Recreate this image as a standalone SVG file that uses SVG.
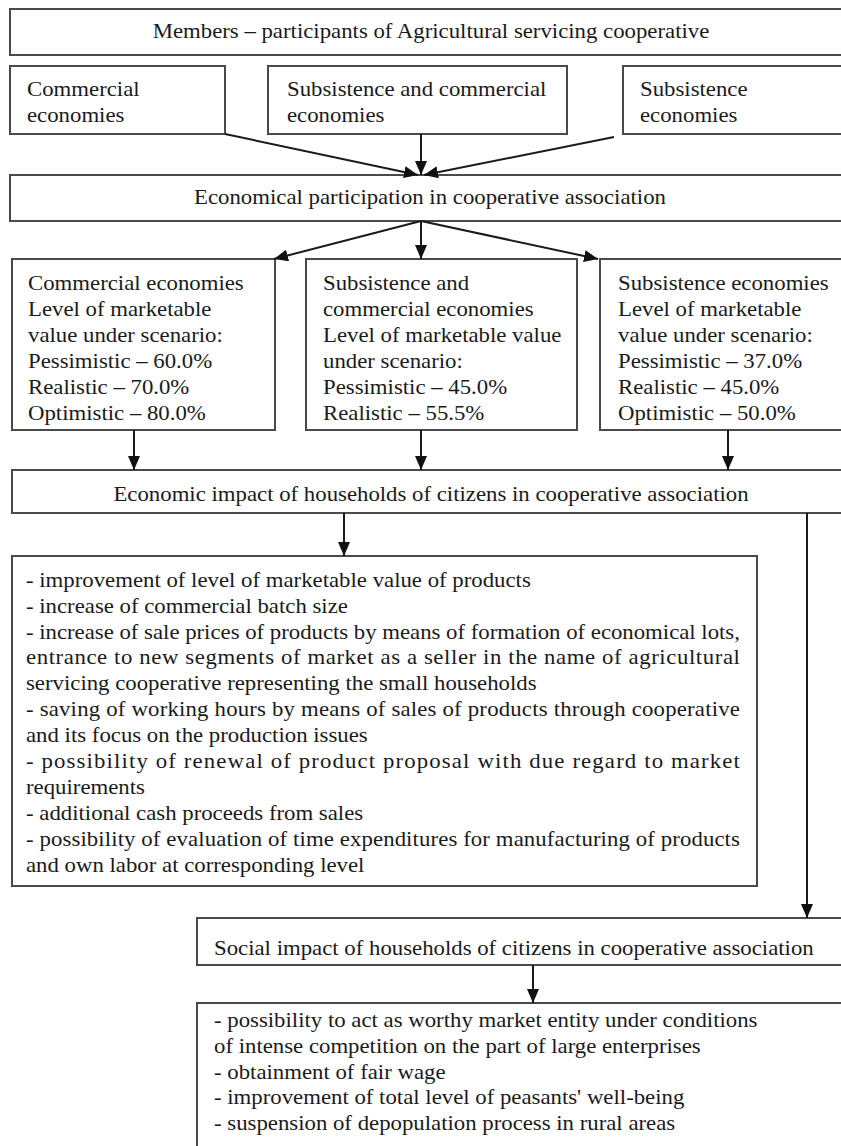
<svg xmlns="http://www.w3.org/2000/svg" width="841" height="1146" viewBox="0 0 841 1146">
<style>
.box{fill:#fff;stroke:#4a4a4a;stroke-width:2}
text{font-family:"Liberation Serif","Times New Roman",serif;font-size:21px;fill:#1a1a1a}
.c{text-anchor:middle}
.con{stroke:#1a1a1a;stroke-width:2;fill:none;marker-end:url(#ah)}
</style>
<defs>
<marker id="ah" markerUnits="userSpaceOnUse" viewBox="0 0 14 12" refX="14" refY="6" markerWidth="14" markerHeight="12" orient="auto">
<path d="M0,0 L14,6 L0,12 z" fill="#111"/>
</marker>
</defs>
<rect width="841" height="1146" fill="#fff"/>

<g id="members">
<rect class="box" x="10" y="9" width="840" height="46"/>
<g transform="translate(431,0) scale(1.085,1)"><text class="c" x="0" y="38">Members – participants of Agricultural servicing cooperative</text></g>
</g>

<g id="commercial">
<rect class="box" x="10" y="66" width="215" height="68"/>
<g transform="translate(27,0) scale(1.085,1)"><text x="0" y="96">Commercial</text><text x="0" y="122">economies</text></g>
</g>
<g id="subcom">
<rect class="box" x="268" y="66" width="299" height="68"/>
<g transform="translate(287,0) scale(1.085,1)"><text x="0" y="96">Subsistence and commercial</text><text x="0" y="122">economies</text></g>
</g>
<g id="subsistence">
<rect class="box" x="623" y="66" width="227" height="68"/>
<g transform="translate(640,0) scale(1.085,1)"><text x="0" y="96">Subsistence</text><text x="0" y="122">economies</text></g>
</g>

<g id="participation">
<rect class="box" x="10" y="175" width="840" height="46"/>
<g transform="translate(430,0) scale(1.085,1)"><text class="c" x="0" y="204">Economical participation in cooperative association</text></g>
</g>

<g id="comm-level">
<rect class="box" x="12" y="259" width="263" height="171"/>
<g transform="translate(28,0) scale(1.085,1)">
<text x="0" y="290">Commercial economies</text>
<text x="0" y="316">Level of marketable</text>
<text x="0" y="342">value under scenario:</text>
<text x="0" y="368">Pessimistic – 60.0%</text>
<text x="0" y="394">Realistic – 70.0%</text>
<text x="0" y="420">Optimistic – 80.0%</text>
</g>
</g>
<g id="subcom-level">
<rect class="box" x="306" y="259" width="271" height="171"/>
<g transform="translate(323,0) scale(1.085,1)">
<text x="0" y="290">Subsistence and</text>
<text x="0" y="316">commercial economies</text>
<text x="0" y="342">Level of marketable value</text>
<text x="0" y="368">under scenario:</text>
<text x="0" y="394">Pessimistic – 45.0%</text>
<text x="0" y="420">Realistic – 55.5%</text>
</g>
</g>
<g id="subs-level">
<rect class="box" x="600" y="259" width="250" height="171"/>
<g transform="translate(618,0) scale(1.085,1)">
<text x="0" y="290">Subsistence economies</text>
<text x="0" y="316">Level of marketable</text>
<text x="0" y="342">value under scenario:</text>
<text x="0" y="368">Pessimistic – 37.0%</text>
<text x="0" y="394">Realistic – 45.0%</text>
<text x="0" y="420">Optimistic – 50.0%</text>
</g>
</g>

<g id="economic-impact">
<rect class="box" x="12" y="470" width="838" height="43"/>
<g transform="translate(431,0) scale(1.085,1)"><text class="c" x="0" y="501">Economic impact of households of citizens in cooperative association</text></g>
</g>

<g id="economic-list">
<rect class="box" x="12" y="556" width="745" height="330"/>
<g transform="translate(26,0) scale(1.085,1)">
<text x="0" y="587">- improvement of level of marketable value of products</text>
<text x="0" y="613">- increase of commercial batch size</text>
<text x="0" y="639" textLength="658">- increase of sale prices of products by means of formation of economical lots,</text>
<text x="0" y="664" textLength="658">entrance to new segments of market as a seller in the name of agricultural</text>
<text x="0" y="690">servicing cooperative representing the small households</text>
<text x="0" y="716" textLength="658">- saving of working hours by means of sales of products through cooperative</text>
<text x="0" y="742">and its focus on the production issues</text>
<text x="0" y="768" textLength="658">- possibility of renewal of product proposal with due regard to market</text>
<text x="0" y="794">requirements</text>
<text x="0" y="820">- additional cash proceeds from sales</text>
<text x="0" y="846" textLength="658">- possibility of evaluation of time expenditures for manufacturing of products</text>
<text x="0" y="872">and own labor at corresponding level</text>
</g>
</g>

<g id="social-impact">
<rect class="box" x="197" y="918" width="653" height="47"/>
<g transform="translate(214,0) scale(1.085,1)"><text x="0" y="955">Social impact of households of citizens in cooperative association</text></g>
</g>

<g id="social-list">
<rect class="box" x="197" y="1003" width="653" height="160"/>
<g transform="translate(214,0) scale(1.085,1)">
<text x="0" y="1027">- possibility to act as worthy market entity under conditions</text>
<text x="0" y="1053">of intense competition on the part of large enterprises</text>
<text x="0" y="1079">- obtainment of fair wage</text>
<text x="0" y="1104">- improvement of total level of peasants' well-being</text>
<text x="0" y="1130">- suspension of depopulation process in rural areas</text>
</g>
</g>

<g id="connectors">
<line class="con" x1="225" y1="134" x2="418" y2="175"/>
<line class="con" x1="421" y1="134" x2="421" y2="175"/>
<line class="con" x1="614" y1="137" x2="424" y2="175"/>
<line class="con" x1="421" y1="221" x2="274" y2="259"/>
<line class="con" x1="421" y1="221" x2="421" y2="259"/>
<line class="con" x1="421" y1="221" x2="598" y2="259"/>
<line class="con" x1="134" y1="430" x2="134" y2="470"/>
<line class="con" x1="421" y1="430" x2="421" y2="470"/>
<line class="con" x1="728" y1="430" x2="728" y2="470"/>
<line class="con" x1="344" y1="513" x2="344" y2="556"/>
<line class="con" x1="807" y1="513" x2="807" y2="918"/>
<line class="con" x1="533" y1="965" x2="533" y2="1003"/>
</g>
</svg>
